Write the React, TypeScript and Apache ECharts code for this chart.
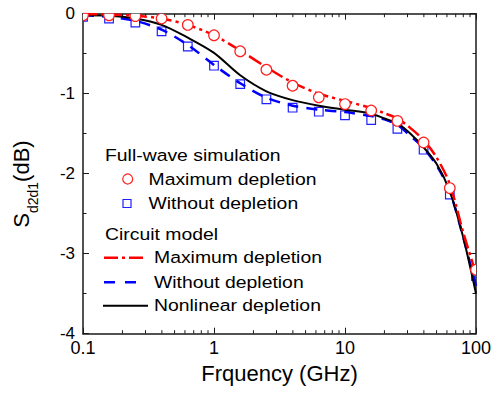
import React, { useEffect, useRef } from 'react';
import * as echarts from 'echarts';

// Full-wave simulation markers
const markerFreqs = [0.1, 0.158, 0.251, 0.398, 0.631, 1, 1.585, 2.512, 3.981, 6.31, 10, 15.85, 25.12, 39.81, 63.1, 100];
const fullWaveMax = [-0.02, -0.02, -0.03, -0.06, -0.14, -0.27, -0.47, -0.7, -0.9, -1.045, -1.13, -1.21, -1.34, -1.61, -2.18, -3.2];
const fullWaveWithout = [-0.04, -0.06, -0.11, -0.22, -0.41, -0.65, -0.88, -1.07, -1.175, -1.225, -1.27, -1.33, -1.44, -1.7, -2.26, -3.28];

// Circuit model curves
const curveFreqs = [0.1, 0.158, 0.251, 0.398, 0.631, 1, 1.585, 2.512, 3.981, 6.31, 10, 15.85, 20, 25.12, 31.62, 39.81, 50.12, 63.1, 79.43, 100];
const circuitMax = [-0.005, -0.01, -0.025, -0.06, -0.14, -0.27, -0.46, -0.67, -0.86, -1.0, -1.09, -1.18, -1.245, -1.31, -1.43, -1.58, -1.8, -2.13, -2.72, -3.25];
const circuitWithout = [-0.02, -0.04, -0.09, -0.2, -0.39, -0.64, -0.87, -1.05, -1.15, -1.2, -1.23, -1.28, -1.32, -1.39, -1.53, -1.68, -1.9, -2.22, -2.78, -3.4];
const circuitNonlinear = [-0.02, -0.025, -0.06, -0.14, -0.3, -0.49, -0.77, -0.97, -1.08, -1.15, -1.2, -1.25, -1.31, -1.37, -1.5, -1.67, -1.88, -2.22, -2.78, -3.5];

// Axis ticks
const xTickLabels = ['0.1', '1', '10', '100'];
const xMinorTicks = [0.2, 0.3, 0.4, 0.5, 0.6, 0.7, 0.8, 0.9, 2, 3, 4, 5, 6, 7, 8, 9, 20, 30, 40, 50, 60, 70, 80, 90];

const FONT = 'Liberation Sans, Arial, sans-serif';

export default function App() {
  const ref = useRef<HTMLDivElement>(null);
  useEffect(() => {
    const chart = echarts.init(ref.current!, null, { renderer: 'svg' });
    const pair = (xs: number[], ys: number[]) => xs.map((x, i) => [x, ys[i]]);
    const axisLine = { show: true, onZero: false, lineStyle: { color: '#1a1a1a', width: 1.5 } };
    const X_MIN = 0.1, X_MAX = 100, Y_MIN = -4, Y_MAX = 0;

    const legendText = (text: string, x: number, y: number) => ({
      type: 'text', x, y, scaleX: 1.14, z: 100,
      style: { text, fontSize: 17, fontFamily: FONT, fill: '#000', align: 'left', verticalAlign: 'middle' },
    });

    const markerSeries = (name: string, ys: number[], kind: 'circle' | 'square', z: number) => ({
      type: 'custom', name, xAxisIndex: 0, yAxisIndex: 0, clip: true, silent: true, z,
      data: pair(markerFreqs, ys),
      renderItem: (params: any, api: any) => {
        const p = api.coord([api.value(0), api.value(1)]);
        if (kind === 'circle') {
          return {
            type: 'circle', shape: { cx: p[0], cy: p[1], r: 5.3 },
            style: { fill: '#ffffff', stroke: '#ff1f1f', lineWidth: 1.2 },
          };
        }
        return {
          type: 'rect', shape: { x: p[0] - 4.3, y: p[1] - 4.3, width: 8.6, height: 8.6 },
          style: { fill: 'none', stroke: '#1f1fff', lineWidth: 1.2 },
        };
      },
    });

    const option: any = {
      animation: false,
      backgroundColor: '#fff',
      grid: { left: 83, right: 17, top: 13.7, bottom: 59.3, containLabel: false, outerBoundsMode: 'none' },
      xAxis: [
        {
          type: 'log', logBase: 10, min: X_MIN, max: X_MAX, position: 'bottom',
          axisLine, splitLine: { show: false },
          axisTick: { show: true, inside: true, length: 6, lineStyle: { color: '#1a1a1a', width: 1 } },
          axisLabel: {
            show: true, margin: 5, fontSize: 18, fontFamily: FONT, color: '#000',
            formatter: (v: number) => xTickLabels[Math.round(Math.log10(v)) + 1],
          },
          name: 'Frquency (GHz)', nameLocation: 'middle', nameGap: 29,
          nameTextStyle: { fontSize: 22, fontFamily: FONT, color: '#000' },
        },
        {
          type: 'log', logBase: 10, min: X_MIN, max: X_MAX, position: 'top',
          axisLine, splitLine: { show: false },
          axisTick: { show: true, inside: true, length: 6, lineStyle: { color: '#1a1a1a', width: 1 } },
          axisLabel: { show: false },
        },
      ],
      yAxis: [
        {
          type: 'value', min: Y_MIN, max: Y_MAX, interval: 1, position: 'left',
          axisLine, splitLine: { show: false },
          axisTick: { show: true, inside: true, length: 6, lineStyle: { color: '#1a1a1a', width: 1 } },
          minorTick: { show: true, splitNumber: 2, length: 3.5, lineStyle: { color: '#1a1a1a', width: 1 } },
          minorSplitLine: { show: false },
          axisLabel: { show: true, margin: 8, fontSize: 17, fontFamily: FONT, color: '#000' },
        },
        {
          type: 'value', min: Y_MIN, max: Y_MAX, interval: 1, position: 'right',
          axisLine, splitLine: { show: false },
          axisTick: { show: true, inside: true, length: 6, lineStyle: { color: '#1a1a1a', width: 1 } },
          minorTick: { show: true, splitNumber: 2, length: 3.5, lineStyle: { color: '#1a1a1a', width: 1 } },
          minorSplitLine: { show: false },
          axisLabel: { show: false },
        },
      ],
      series: [
        {
          type: 'custom', name: 'minorTicks', xAxisIndex: 0, yAxisIndex: 0, silent: true, clip: false,
          data: xMinorTicks.map((f) => [f, Y_MIN]),
          renderItem: (params: any, api: any) => {
            const f = api.value(0);
            const b = api.coord([f, Y_MIN]);
            const t = api.coord([f, Y_MAX]);
            return {
              type: 'group',
              children: [
                { type: 'line', shape: { x1: b[0], y1: b[1], x2: b[0], y2: b[1] - 3.5 }, style: { stroke: '#1a1a1a', lineWidth: 1 } },
                { type: 'line', shape: { x1: t[0], y1: t[1], x2: t[0], y2: t[1] + 3.5 }, style: { stroke: '#1a1a1a', lineWidth: 1 } },
              ],
            };
          },
        },
        markerSeries('FW Without depletion', fullWaveWithout, 'square', 2),
        {
          type: 'line', name: 'Circuit Without depletion', data: pair(curveFreqs, circuitWithout),
          showSymbol: false, smooth: 0.3,
          lineStyle: { color: '#0000ff', width: 2.5, type: [11, 8] }, z: 3,
        },
        {
          type: 'line', name: 'Circuit Nonlinear depletion', data: pair(curveFreqs, circuitNonlinear),
          showSymbol: false, smooth: 0.3,
          lineStyle: { color: '#000000', width: 2 }, z: 3,
        },
        {
          type: 'line', name: 'Circuit Maximum depletion', data: pair(curveFreqs, circuitMax),
          showSymbol: false, smooth: 0.3,
          lineStyle: { color: '#ff0000', width: 2.5, type: [14, 4, 3, 4] }, z: 3,
        },
        markerSeries('FW Maximum depletion', fullWaveMax, 'circle', 4),
      ],
      graphic: [
        {
          type: 'text', x: 25, y: 184, rotation: Math.PI / 2, z: 100,
          style: {
            text: '{s|S}{sub|d2d1}{s|(dB)}', align: 'center', verticalAlign: 'middle', fill: '#000',
            rich: {
              s: { fontSize: 22, fontFamily: FONT, lineHeight: 30, verticalAlign: 'top', fill: '#000' },
              sub: { fontSize: 14, fontFamily: FONT, lineHeight: 14, verticalAlign: 'bottom', fill: '#000' },
            },
          },
        },
        legendText('Full-wave simulation', 105, 155.5),
        { type: 'circle', shape: { cx: 127.7, cy: 179, r: 5 }, style: { fill: 'none', stroke: '#ff1f1f', lineWidth: 1.2 }, z: 100 },
        legendText('Maximum depletion', 148.5, 179),
        { type: 'rect', shape: { x: 123, y: 199.5, width: 8, height: 8 }, style: { fill: 'none', stroke: '#1f1fff', lineWidth: 1.2 }, z: 100 },
        legendText('Without depletion', 148.5, 203.5),
        legendText('Circuit model', 105, 234.5),
        { type: 'line', shape: { x1: 104, y1: 257.7, x2: 143, y2: 257.7 }, style: { stroke: '#ff0000', lineWidth: 2.5, lineDash: [14, 4, 3, 4] }, z: 100 },
        legendText('Maximum depletion', 154, 257.7),
        { type: 'line', shape: { x1: 104, y1: 282.3, x2: 136, y2: 282.3 }, style: { stroke: '#0000ff', lineWidth: 2.5, lineDash: [11, 10] }, z: 100 },
        legendText('Without depletion', 154, 282.3),
        { type: 'line', shape: { x1: 103, y1: 305.7, x2: 148, y2: 305.7 }, style: { stroke: '#000', lineWidth: 2 }, z: 100 },
        legendText('Nonlinear depletion', 154, 305.7),
      ],
    };
    chart.setOption(option);
    return () => chart.dispose();
  }, []);
  return <div ref={ref} style={{ position: 'absolute', left: 0, top: 0, width: 493, height: 393 }} />;
}
